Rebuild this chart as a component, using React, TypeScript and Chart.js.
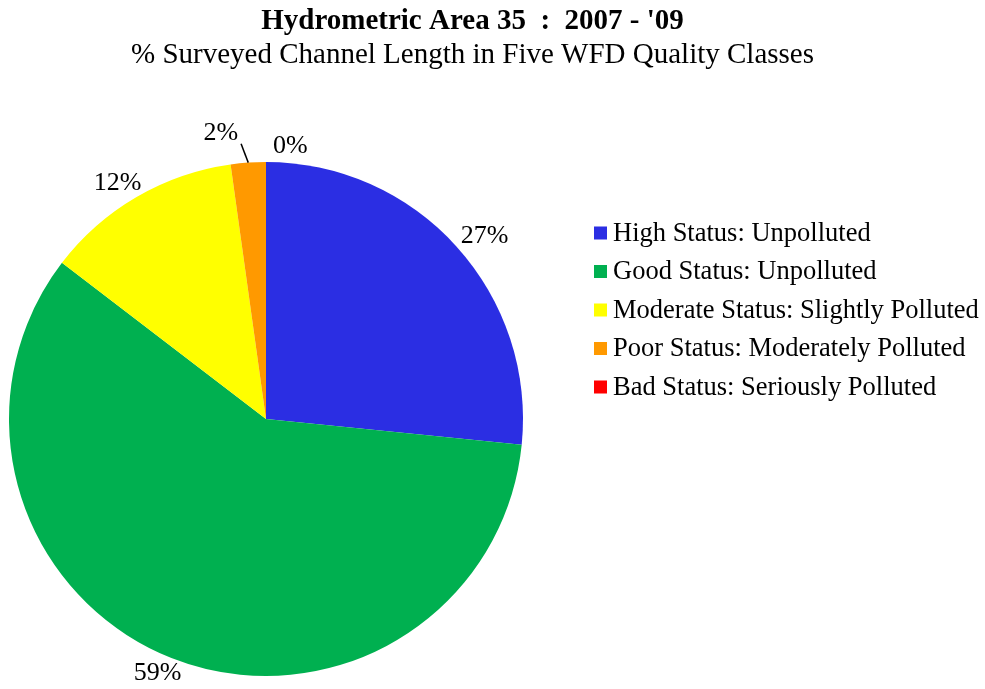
import React, { useEffect, useRef } from 'react';
import { Chart, registerables, layouts } from 'chart.js';

Chart.register(...registerables);

const categories = [
  'High Status: Unpolluted',
  'Good Status: Unpolluted',
  'Moderate Status: Slightly Polluted',
  'Poor Status: Moderately Polluted',
  'Bad Status: Seriously Polluted',
];
const percentages = [26.6, 58.8, 12.4, 2.2, 0];
const colors = ['#2B2EE3', '#00B050', '#FFFF00', '#FF9900', '#FF0000'];
const titleText = "Hydrometric Area 35  :  2007 - '09";
const subtitleText = '% Surveyed Channel Length in Five WFD Quality Classes';

const FONT = "'Liberation Serif', 'Times New Roman', serif";
const LEGEND_WIDTH = 413;
const LEGEND_INSET = 62;
const LEGEND_FIRST = 71;
const LEGEND_ROW = 38.5;
const LEGEND_SWATCH = 13;
const LEGEND_FONT = 26.5;
const LABEL_FONT = 26;

const sideLegend = {
  id: 'sideLegend',
  start(chart: any) {
    const box: any = {
      position: 'right',
      weight: 10,
      fullSize: false,
      options: {},
      left: 0, top: 0, right: 0, bottom: 0, width: 0, height: 0,
      isHorizontal() { return false; },
      update(maxWidth: number, maxHeight: number) {
        box.width = LEGEND_WIDTH;
        box.height = maxHeight;
      },
      draw() {
        const ctx = chart.ctx;
        ctx.save();
        ctx.font = `${LEGEND_FONT}px ${FONT}`;
        ctx.textBaseline = 'middle';
        ctx.textAlign = 'left';
        categories.forEach((c, i) => {
          const y = box.top + LEGEND_FIRST + i * LEGEND_ROW;
          const x = box.left + LEGEND_INSET;
          ctx.fillStyle = colors[i];
          ctx.fillRect(x, y - LEGEND_SWATCH / 2, LEGEND_SWATCH, LEGEND_SWATCH);
          ctx.fillStyle = '#000';
          ctx.fillText(c, x + LEGEND_SWATCH + 6, y + 1);
        });
        ctx.restore();
      },
    };
    layouts.addBox(chart, box);
  },
};

const sliceLabels = {
  id: 'sliceLabels',
  afterDatasetsDraw(chart: any) {
    const ctx = chart.ctx;
    const meta = chart.getDatasetMeta(0);
    const data = chart.data.datasets[0].data as number[];
    ctx.save();
    ctx.font = `${LABEL_FONT}px ${FONT}`;
    const h = 20;
    const items = meta.data.map((arc: any, i: number) => {
      const p = arc.getProps(['x', 'y', 'startAngle', 'endAngle', 'outerRadius'], true);
      const mid = (p.startAngle + p.endAngle) / 2;
      const text = Math.round(data[i]) + '%';
      const w = ctx.measureText(text).width;
      const cos = Math.cos(mid);
      const sin = Math.sin(mid);
      const d = p.outerRadius + 6;
      return {
        text, w, cos, sin,
        cx: p.x + d * cos + (w / 2 + 8) * cos,
        cy: p.y + d * sin + (h / 2) * sin,
        ax: p.x + p.outerRadius * cos,
        ay: p.y + p.outerRadius * sin,
        value: data[i],
        moved: false,
      };
    });
    for (let pass = 0; pass < 3; pass++) {
      for (let i = 0; i < items.length; i++) {
        for (let j = i + 1; j < items.length; j++) {
          const a = items[i];
          const b = items[j];
          const minDx = (a.w + b.w) / 2 + 34;
          const overlapY = Math.abs(a.cy - b.cy) < h;
          const dx = b.cx - a.cx;
          if (overlapY && Math.abs(dx) < minDx) {
            const push = (minDx - Math.abs(dx)) / 2;
            const s = dx >= 0 ? 1 : -1;
            a.cx -= s * push;
            b.cx += s * push;
            a.moved = true;
            b.moved = true;
          }
        }
      }
    }
    ctx.textAlign = 'center';
    ctx.textBaseline = 'middle';
    ctx.fillStyle = '#000';
    ctx.strokeStyle = '#000';
    ctx.lineWidth = 1.5;
    items.forEach((it: any) => {
      if (it.moved && it.value > 0) {
        it.cx += 14 * it.cos;
        it.cy += 14 * it.sin;
        const bx = it.cx + (it.w / 2) * (it.ax >= it.cx ? 1 : -1);
        const by = it.cy + (h / 2) * (it.ay >= it.cy ? 1 : -1);
        ctx.beginPath();
        ctx.moveTo(it.ax, it.ay);
        ctx.lineTo(bx + 3 * Math.sign(it.ax - bx), by + 1);
        ctx.stroke();
      }
      ctx.fillText(it.text, it.cx, it.cy);
    });
    ctx.restore();
  },
};

export default function App() {
  const ref = useRef<HTMLCanvasElement | null>(null);
  useEffect(() => {
    if (!ref.current) return;
    const chart = new Chart(ref.current, {
      type: 'pie',
      data: {
        labels: categories,
        datasets: [
          {
            data: percentages,
            backgroundColor: colors,
            borderWidth: 0,
          },
        ],
      },
      options: {
        responsive: false,
        animation: false,
        layout: { padding: { right: 40, bottom: 13 } },
        plugins: {
          legend: { display: false },
          tooltip: { enabled: false },
          title: {
            display: true,
            text: titleText,
            color: '#000',
            font: { family: FONT, size: 29, weight: 'bold', lineHeight: 1 },
            padding: { top: 7, bottom: 0 },
          },
          subtitle: {
            display: true,
            text: subtitleText,
            color: '#000',
            font: { family: FONT, size: 29, lineHeight: 1 },
            padding: { top: 4.5, bottom: 92.5 },
          },
        },
      },
      plugins: [sideLegend, sliceLabels],
    });
    return () => chart.destroy();
  }, []);
  return (
    <div style={{ position: 'fixed', left: 0, top: 0, width: 985, height: 689, background: '#fff' }}>
      <canvas ref={ref} width={985} height={689} />
    </div>
  );
}
